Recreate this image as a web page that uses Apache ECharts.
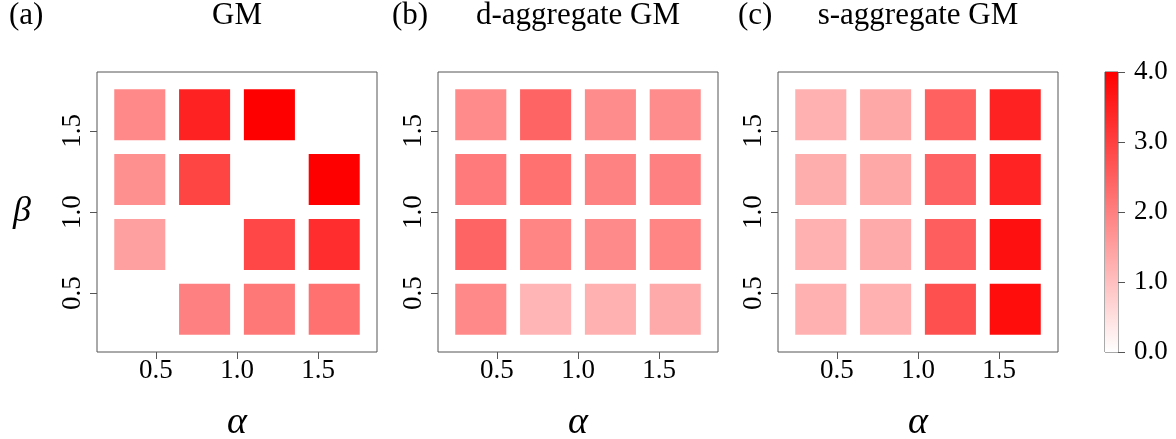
<!DOCTYPE html>
<html><head><meta charset="utf-8">
<script src="https://cdn.jsdelivr.net/npm/echarts@6/dist/echarts.min.js"></script>
<style>html,body{margin:0;padding:0;background:#fff}#c{width:1176px;height:439px}</style>
</head><body><div id="c"></div>
<script>
// ---- data ----
const alphaValues = [0.4, 0.8, 1.2, 1.6];
const betaValues = [0.4, 0.8, 1.2, 1.6];
const tickLabels = [0.5, 1.0, 1.5];
const colorbarTicks = [0, 1, 2, 3, 4];
const colorRange = [0, 4];
const panelTitles = ['GM', 'd-aggregate GM', 's-aggregate GM'];
const panelTags = ['(a)', '(b)', '(c)'];
// rows: beta = 0.4, 0.8, 1.2, 1.6 ; columns: alpha = 0.4, 0.8, 1.2, 1.6 ; null = empty cell
const gmValues = [
  [null, 2.00, 2.12, 2.24],
  [1.49, null, 2.89, 3.29],
  [1.74, 2.93, null, 4.00],
  [1.87, 3.47, 4.00, null]
];
const dAggValues = [
  [1.87, 1.16, 1.24, 1.33],
  [2.43, 1.91, 1.84, 1.91],
  [2.07, 2.24, 1.96, 2.00],
  [1.82, 2.43, 1.80, 1.80]
];
const sAggValues = [
  [1.24, 1.24, 2.75, 3.81],
  [1.24, 1.33, 2.53, 3.75],
  [1.27, 1.36, 2.46, 3.45],
  [1.24, 1.36, 2.48, 3.47]
];
// ---- chart ----
const FONT = 'Liberation Serif';
const HALF = 0.1575;
const panels = [gmValues, dAggValues, sAggValues];
const gridLefts = [97, 438, 778];
const chart = echarts.init(document.getElementById('c'));

function toData(m) {
  const out = [];
  m.forEach((row, i) => row.forEach((v, j) => { if (v !== null) out.push([alphaValues[j], betaValues[i], v]); }));
  return out;
}
function renderCell(params, api) {
  const x = api.value(0), y = api.value(1);
  const p0 = api.coord([x - HALF, y + HALF]);
  const p1 = api.coord([x + HALF, y - HALF]);
  return { type: 'rect', shape: { x: p0[0], y: p0[1], width: p1[0] - p0[0], height: p1[1] - p0[1] },
           style: { fill: api.visual('color') } };
}
const grids = [], xAxes = [], yAxes = [], series = [], titles = [];
panels.forEach((m, k) => {
  grids.push({ left: gridLefts[k], top: 72, width: 280, height: 280, show: true, borderColor: '#555', borderWidth: 1,
    backgroundColor: '#fff', containLabel: false, outerBoundsMode: 'none' });
  const axisCommon = {
    type: 'value', min: 0.136, max: 1.864, gridIndex: k,
    splitLine: { show: false }, axisLine: { show: false },
    axisTick: { show: true, length: 7, lineStyle: { color: '#555' }, customValues: tickLabels },
    axisLabel: { customValues: tickLabels, formatter: v => v.toFixed(1), fontFamily: FONT, fontSize: 27, color: '#000' }
  };
  xAxes.push(Object.assign({}, axisCommon, {
    axisLabel: Object.assign({}, axisCommon.axisLabel, { margin: 5 }),
    name: 'α', nameLocation: 'middle', nameGap: 52,
    nameTextStyle: { fontFamily: FONT, fontStyle: 'italic', fontSize: 38, color: '#000' }
  }));
  const ya = Object.assign({}, axisCommon, {
    axisLabel: Object.assign({}, axisCommon.axisLabel, { rotate: 90, margin: 11 })
  });
  if (k === 0) Object.assign(ya, { name: 'β', nameLocation: 'middle', nameGap: 66, nameRotate: 0,
    nameTextStyle: { fontFamily: FONT, fontStyle: 'italic', fontSize: 36, color: '#000' } });
  yAxes.push(ya);
  series.push({ type: 'custom', coordinateSystem: 'cartesian2d', xAxisIndex: k, yAxisIndex: k,
    data: toData(m), encode: { x: 0, y: 1, tooltip: 2 }, renderItem: renderCell, silent: true });
  titles.push({ text: panelTitles[k], left: gridLefts[k] + 140, top: 0, textAlign: 'center', padding: 0,
    textStyle: { fontFamily: FONT, fontWeight: 'normal', fontSize: 31, color: '#000' } });
});
[9, 392, 738].forEach((x, k) => titles.push({ text: panelTags[k], left: x, top: 0, padding: 0,
  textStyle: { fontFamily: FONT, fontWeight: 'normal', fontSize: 31, color: '#000' } }));

// colorbar
grids.push({ left: 1105, top: 72, width: 13, height: 280, show: true, borderColor: '#555', borderWidth: 1,
  containLabel: false, outerBoundsMode: 'none' });
xAxes.push({ type: 'category', gridIndex: 3, data: [''], show: false });
yAxes.push({ type: 'value', gridIndex: 3, position: 'right', min: colorRange[0], max: colorRange[1], interval: 1,
  splitLine: { show: false }, axisLine: { show: false },
  axisTick: { show: true, length: 7, lineStyle: { color: '#555' } },
  axisLabel: { formatter: v => v.toFixed(1), fontFamily: FONT, fontSize: 27, color: '#000', margin: 16 } });
series.push({ type: 'bar', xAxisIndex: 3, yAxisIndex: 3, data: [colorRange[1]], barWidth: '100%', silent: true,
  itemStyle: { color: { type: 'linear', x: 0, y: 1, x2: 0, y2: 0,
    colorStops: [{ offset: 0, color: '#ffffff' }, { offset: 1, color: '#ff0000' }] } } });

chart.setOption({
  backgroundColor: '#fff',
  animation: false,
  title: titles,
  visualMap: { type: 'continuous', show: false, min: colorRange[0], max: colorRange[1], dimension: 2,
    seriesIndex: [0, 1, 2], inRange: { color: ['#ffffff', '#ff0000'] } },
  grid: grids, xAxis: xAxes, yAxis: yAxes, series: series
});
</script></body></html>
